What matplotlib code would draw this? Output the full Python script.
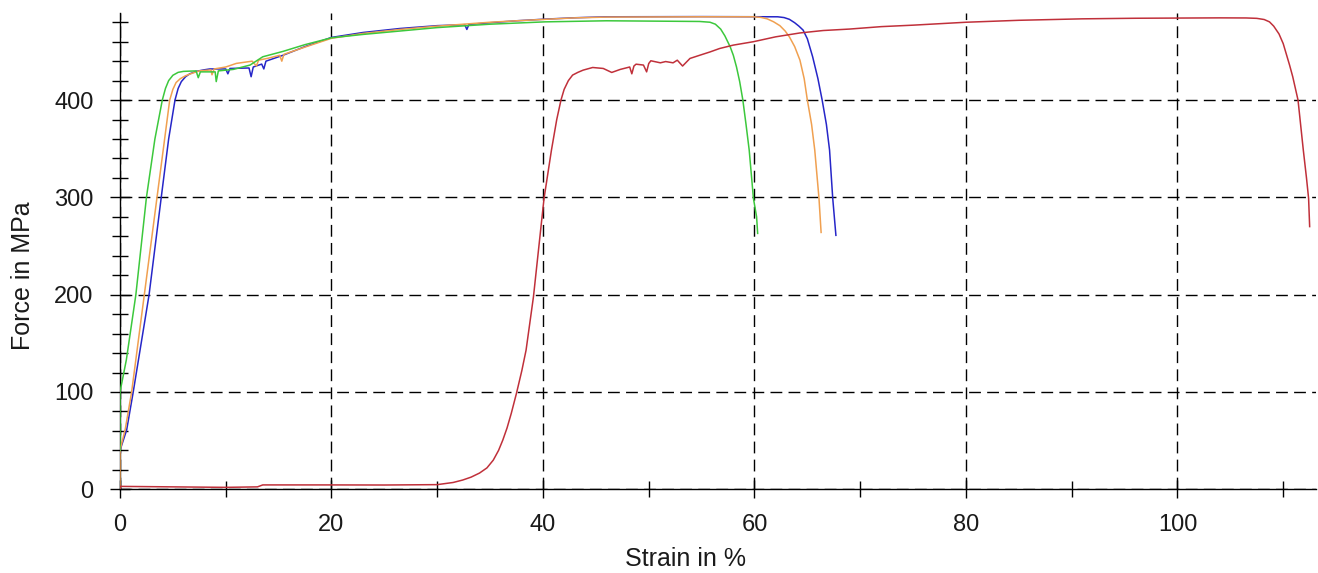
import matplotlib
matplotlib.use("Agg")
import matplotlib.pyplot as plt
from matplotlib.ticker import MultipleLocator


plt.rcParams.update({
    "font.family": ["Liberation Sans", "DejaVu Sans"],
    "font.size": 17,
})


# Kurven (Dehnung in %, Spannung in MPa)
blue_x = [0, 0, 0.63, 1.25, 2.75, 3.9, 4.6, 5.2, 5.5, 5.8, 6.2, 6.6, 7.2, 7.9, 8.5,
          10.0, 10.2, 10.4, 12.2, 12.4, 12.6, 13.4, 13.6, 13.8, 15.4, 17.5, 20, 23,
          26.5, 30, 32.6, 32.8, 33.0, 35, 37.5, 40.2, 43, 46, 55, 62.2, 62.8, 63.3,
          63.8, 64.2, 64.6, 65.0, 65.5, 66.0, 66.4, 66.8, 67.1, 67.4, 67.7]
blue_y = [38, 40, 61, 100, 200, 300, 360, 400, 412, 419, 424, 427, 429.5, 431, 432,
          432, 427, 432.5, 433, 424, 434, 437, 432, 440, 446, 455, 464.4, 469.5,
          473.6, 476.5, 477.5, 472.6, 477.8, 479.5, 481.5, 483.2, 484.6, 485.6, 485.8,
          485.6, 484.8, 483, 479.5, 476, 471.9, 463, 444.5, 422, 400, 375, 348.6, 299, 261]

orange_x = [0, 0, 0.5, 1.1, 2.3, 3.5, 4.1, 4.7, 5.0, 5.3, 5.7, 6.2, 6.8, 7.5, 8.6,
            8.7, 8.9, 10.0, 11.0, 12.5, 12.9, 13.1, 14.0, 15.1, 15.3, 15.5, 17.5, 20,
            23, 26.5, 30, 35, 37.5, 40.2, 43, 46, 55, 59.9, 60.6, 61.2, 61.8, 62.4,
            62.9, 63.3, 63.8, 64.3, 64.7, 65.0, 65.4, 65.7, 66.1, 66.3]
orange_y = [0, 40, 62, 100, 200, 300, 350, 400, 411, 418, 422, 425, 427.5, 430, 431,
            426, 432, 434, 437.7, 440, 435, 441, 443, 446, 440, 447, 454.5, 463.5,
            468.5, 472.6, 476, 480, 481.5, 483, 484.5, 485.3, 485.6, 485.6, 485, 483.5,
            480.5, 476.5, 471, 465, 455, 441, 422, 400, 375, 348.6, 299, 264]

green_x = [0, 0, 0.6, 1.5, 2.5, 3.3, 4.0, 4.3, 4.6, 5.0, 5.5, 6.0, 7.2, 7.4, 7.6,
           9.0, 9.1, 9.3, 10.7, 12.3, 13.5, 15.4, 17.5, 20, 23, 26.5, 30, 35, 40.2,
           46, 54.8, 55.8, 56.3, 56.8, 57.2, 57.7, 58.0, 58.3, 58.6, 58.9, 59.2, 59.5,
           59.9, 60.2, 60.3]
green_y = [40, 100, 133, 200, 300, 360, 400, 412, 420, 425.5, 428.5, 429.5, 430, 423, 429,
           429, 419, 430, 431.5, 436, 444.5, 450, 457, 464, 467.5, 471, 474.5, 478, 480.4,
           481.5, 480.8, 480, 478, 473, 466, 454.8, 446, 434, 419, 400, 375, 348.6,
           299, 280, 263]

red_x = [0, 0, 5, 10, 13, 13.5, 20, 25, 30, 31.5, 32.4, 33.2, 34, 34.7, 35.3, 35.8,
         36.2, 36.6, 37, 37.5, 38, 38.4, 39.1, 40.1, 40.8, 41.3, 41.7, 42.0, 42.4,
         42.8, 43.3, 43.8, 44.7, 45.7, 46.5, 47.3, 48.2, 48.4, 48.6, 48.8, 49.5,
         49.8, 50.0, 50.2, 51.1, 51.6, 52.3, 52.7, 53.2, 53.9, 54.8, 55.8, 56.7,
         58.0, 59.9, 62, 64.3, 66.5, 69, 72, 75, 80, 85, 91, 96, 100, 104, 106.5,
         107.5, 108.2, 108.7, 109.1, 109.6, 110.0, 110.3, 110.6, 110.9, 111.4,
         111.9, 112.2, 112.4, 112.5]
red_y = [0, 3, 2.5, 2, 2.5, 4.5, 4.5, 4.4, 4.8, 7, 9.5, 12.5, 16.7, 22, 30, 40,
         50.6, 63, 78, 99, 122, 143, 198, 299, 348.6, 380, 400, 411, 420, 425.7,
         428.5, 430.8, 433.5, 432.5, 428.4, 431.5, 434, 427, 435, 436.9, 436, 429,
         437.6, 440.4, 438.3, 439.6, 438.3, 441, 435, 442.8, 446, 449.5, 453,
         456.5, 460, 465, 469, 471.5, 473, 475.5, 477, 480, 482, 483.5, 484.1,
         484.3, 484.5, 484.4, 484, 482.8, 480.4, 476, 468, 458, 447, 436, 424, 400,
         348.6, 320, 299, 270]

curves = [
    (blue_x, blue_y, "#2626c8"),
    (orange_x, orange_y, "#f0a050"),
    (green_x, green_y, "#3cc83c"),
    (red_x, red_y, "#c0303a"),
]


fig = plt.figure(figsize=(13.18, 5.73), dpi=100)
ax = fig.add_axes([120 / 1318, 1 - 489.3 / 573, 1196 / 1318, 476.3 / 573])

for xs, ys, color in curves:
    ax.plot(xs, ys, color=color, linewidth=1.1, zorder=3)

ax.set_xlim(0, 113.1)
ax.set_ylim(0, 489.5)

ax.xaxis.set_major_locator(MultipleLocator(20))
ax.xaxis.set_minor_locator(MultipleLocator(10))
ax.yaxis.set_major_locator(MultipleLocator(100))
ax.yaxis.set_minor_locator(MultipleLocator(20))

ax.grid(which="major", color="black", linewidth=1.0, linestyle=(0, (8.5, 4.5)))

for side in ("top", "right"):
    ax.spines[side].set_visible(False)
for side in ("left", "bottom"):
    ax.spines[side].set_linewidth(1.0)
    ax.spines[side].set_color("black")

ax.tick_params(axis="y", which="major", direction="inout", length=14, width=1.0,
               pad=12, labelsize=17, colors="black", labelcolor="#1a1a1a")
ax.tick_params(axis="y", which="minor", direction="inout", length=12, width=1.0,
               colors="black")
ax.tick_params(axis="x", which="major", direction="inout", length=13, width=1.0,
               pad=11, labelsize=17, colors="black", labelcolor="#1a1a1a")
ax.tick_params(axis="x", which="minor", direction="inout", length=12, width=1.0,
               colors="black")

ax.set_xlabel("Strain in %", fontsize=18, color="#1a1a1a", va="center")
ax.set_ylabel("Force in MPa", fontsize=18, color="#1a1a1a", va="center", ha="center")
ax.xaxis.set_label_coords(0.473, (489.3 - 559) / 476.3)
ax.yaxis.set_label_coords((23 - 120) / 1196, (489.3 - 276) / 476.3)

fig.savefig("out.png", dpi=100)
